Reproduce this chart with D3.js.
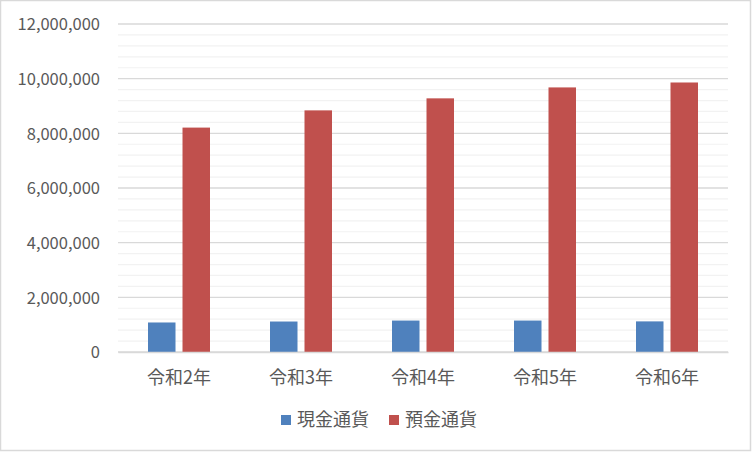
<!DOCTYPE html>
<html>
<head>
<meta charset="utf-8">
<script src="https://cdn.jsdelivr.net/npm/d3@7"></script>
<style>
  body { margin: 0; background: #fff; }
  text { font-family: "Noto Sans CJK JP", "Noto Sans", sans-serif; fill: #595959; }
</style>
</head>
<body>
<svg id="chart" width="752" height="452"></svg>
<script>
// datos
const years = ['令和2年', '令和3年', '令和4年', '令和5年', '令和6年'];
const seriesNames = ['現金通貨', '預金通貨'];
const cash = [1080000, 1115000, 1150000, 1150000, 1120000];
const deposits = [8210000, 8840000, 9280000, 9680000, 9860000];
const yTicks = [0, 2000000, 4000000, 6000000, 8000000, 10000000, 12000000];
const colores = ['#4f81bd', '#c0504d'];

const w = 752, h = 452;
const plot = { left: 118, right: 728, top: 24, bottom: 352 };

const svg = d3.select('#chart');

// marco
svg.append('rect')
    .attr('x', 0.5).attr('y', 0.5)
    .attr('width', w - 2).attr('height', h - 2)
    .attr('fill', '#fff')
    .attr('stroke', '#d9d9d9')
    .attr('stroke-width', 1.5);

// escalas
const yScale = d3.scaleLinear()
    .domain([0, 12000000])
    .range([plot.bottom, plot.top]);

const x0 = d3.scaleBand()
    .domain(years)
    .range([plot.left, plot.right])
    .padding(0);

// barras dentro de cada categoria (62px de 122)
const x1 = d3.scaleBand()
    .domain(seriesNames)
    .range([30, 92])
    .paddingInner(0.203)
    .paddingOuter(0);

// rejilla menor
const minorTicks = d3.range(0, 12000001, 400000).filter(v => v % 2000000 !== 0);
svg.append('g')
    .selectAll('line')
    .data(minorTicks)
    .enter()
    .append('line')
    .attr('x1', plot.left).attr('x2', plot.right)
    .attr('y1', d => yScale(d)).attr('y2', d => yScale(d))
    .attr('stroke', '#f2f2f2')
    .attr('stroke-width', 1.2);

// rejilla mayor
svg.append('g')
    .selectAll('line')
    .data(yTicks)
    .enter()
    .append('line')
    .attr('x1', plot.left).attr('x2', plot.right)
    .attr('y1', d => yScale(d)).attr('y2', d => yScale(d))
    .attr('stroke', '#d9d9d9')
    .attr('stroke-width', 1.3);

// eje Y
const yAxis = d3.axisLeft(yScale)
    .tickValues(yTicks)
    .tickSize(0)
    .tickPadding(0)
    .tickFormat(d3.format(','));

const gy = svg.append('g')
    .attr('transform', 'translate(100,0)')
    .call(yAxis);
gy.select('.domain').remove();
gy.selectAll('text')
    .style('font-size', '16.5px')
    .attr('fill', '#595959')
    .attr('dy', '0.35em');

// barras
const datos = years.map((y, i) => ({ year: y, vals: [cash[i], deposits[i]] }));

const grupos = svg.append('g')
    .selectAll('g')
    .data(datos)
    .enter()
    .append('g')
    .attr('transform', d => 'translate(' + x0(d.year) + ',0)');

grupos.selectAll('rect')
    .data(d => d.vals.map((v, j) => ({ name: seriesNames[j], v: v, j: j })))
    .enter()
    .append('rect')
    .attr('x', d => x1(d.name))
    .attr('width', x1.bandwidth())
    .attr('y', d => yScale(d.v))
    .attr('height', d => yScale(0) - yScale(d.v))
    .attr('fill', d => colores[d.j]);

// eje X
const xAxis = d3.axisBottom(x0).tickSize(0).tickPadding(0);
const gx = svg.append('g')
    .attr('transform', 'translate(0,' + plot.bottom + ')')
    .call(xAxis);
gx.select('.domain')
    .attr('stroke', '#d9d9d9')
    .attr('stroke-width', 1.5);
gx.selectAll('text')
    .style('font-size', '18px')
    .attr('fill', '#595959')
    .attr('dy', 0)
    .attr('y', 32);

// leyenda
const leyendaX = [281, 389];
const leyenda = svg.append('g')
    .selectAll('g')
    .data(seriesNames)
    .enter()
    .append('g')
    .attr('transform', (d, i) => 'translate(' + leyendaX[i] + ',415)');

leyenda.append('rect')
    .attr('width', 10).attr('height', 10)
    .attr('fill', (d, i) => colores[i]);

leyenda.append('text')
    .attr('x', 16)
    .attr('y', 5)
    .attr('dy', '0.35em')
    .style('font-size', '18px')
    .text(d => d);
</script>
</body>
</html>
